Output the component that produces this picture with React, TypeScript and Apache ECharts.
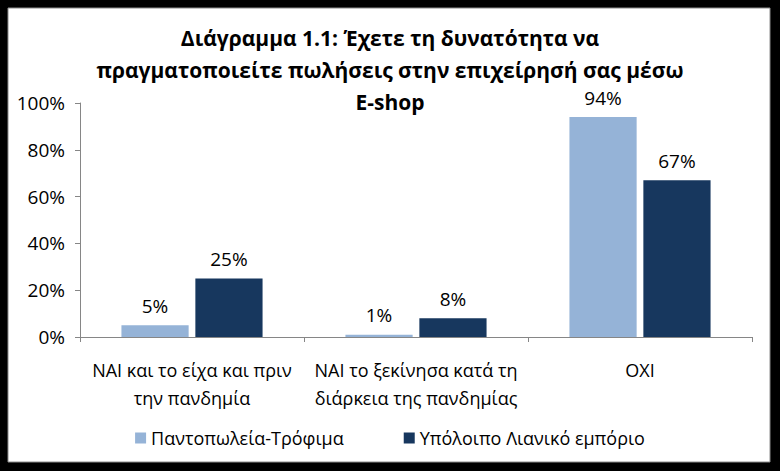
import React, { useEffect, useRef } from "react";
import * as echarts from "echarts";

const categories = [
  "ΝΑΙ και το είχα και πριν\nτην πανδημία",
  "ΝΑΙ το ξεκίνησα κατά τη\nδιάρκεια της πανδημίας",
  "ΟΧΙ",
];
const seriesNames = ["Παντοπωλεία-Τρόφιμα", "Υπόλοιπο Λιανικό εμπόριο"];
const groceryValues = [5, 1, 94];
const otherRetailValues = [25, 8, 67];
const titleText =
  "Διάγραμμα 1.1: Έχετε τη δυνατότητα να\nπραγματοποιείτε πωλήσεις στην επιχείρησή σας μέσω\nE-shop";

const FONT = "'Open Sans', 'Noto Sans', sans-serif";

export default function App() {
  const ref = useRef<HTMLDivElement>(null);
  useEffect(() => {
    if (!ref.current) return;
    const chart = echarts.init(ref.current, null, { renderer: "svg" });
    const labelStyle = {
      show: true,
      position: "top",
      distance: 10,
      formatter: "{c}%",
      color: "#000",
      fontSize: 19,
      fontFamily: FONT,
    };
    chart.setOption({
      animation: false,
      backgroundColor: "#000",
      graphic: [
        {
          type: "rect",
          z: -10,
          shape: { x: 8, y: 8, width: 762, height: 454 },
          style: { fill: "#fff", stroke: "#8c8c8c", lineWidth: 1 },
        },
      ],
      title: {
        text: titleText,
        left: "center",
        top: 22,
        padding: 0,
        textStyle: {
          fontFamily: FONT,
          fontSize: 21,
          fontWeight: "bold",
          color: "#000",
          lineHeight: 32,
        },
      },
      legend: {
        data: seriesNames,
        left: "center",
        top: 424,
        icon: "rect",
        itemWidth: 11,
        itemHeight: 11,
        itemGap: 60,
        textStyle: { fontFamily: FONT, fontSize: 18, color: "#000" },
      },
      grid: { left: 80, right: 28, top: 103, bottom: 134 },
      xAxis: {
        type: "category",
        data: categories,
        axisLine: { lineStyle: { color: "#868686" } },
        axisTick: { show: true, length: 5, lineStyle: { color: "#868686" } },
        axisLabel: {
          interval: 0,
          margin: 19,
          color: "#000",
          fontSize: 18,
          lineHeight: 28,
          fontFamily: FONT,
        },
      },
      yAxis: {
        type: "value",
        min: 0,
        max: 100,
        interval: 20,
        axisLine: { show: true, lineStyle: { color: "#868686" } },
        axisTick: { show: true, length: 5, lineStyle: { color: "#868686" } },
        splitLine: { show: false },
        axisLabel: {
          formatter: "{value}%",
          margin: 15,
          color: "#000",
          fontSize: 19,
          fontFamily: FONT,
        },
      },
      series: [
        {
          name: seriesNames[0],
          type: "bar",
          data: groceryValues,
          barWidth: "30%",
          barGap: "10%",
          itemStyle: { color: "#95B3D7" },
          label: labelStyle,
        },
        {
          name: seriesNames[1],
          type: "bar",
          data: otherRetailValues,
          barWidth: "30%",
          barGap: "10%",
          itemStyle: { color: "#17375E" },
          label: labelStyle,
        },
      ],
    });
    return () => chart.dispose();
  }, []);
  return (
    <div
      ref={ref}
      style={{ position: "absolute", left: 0, top: 0, width: 780, height: 471 }}
    />
  );
}
